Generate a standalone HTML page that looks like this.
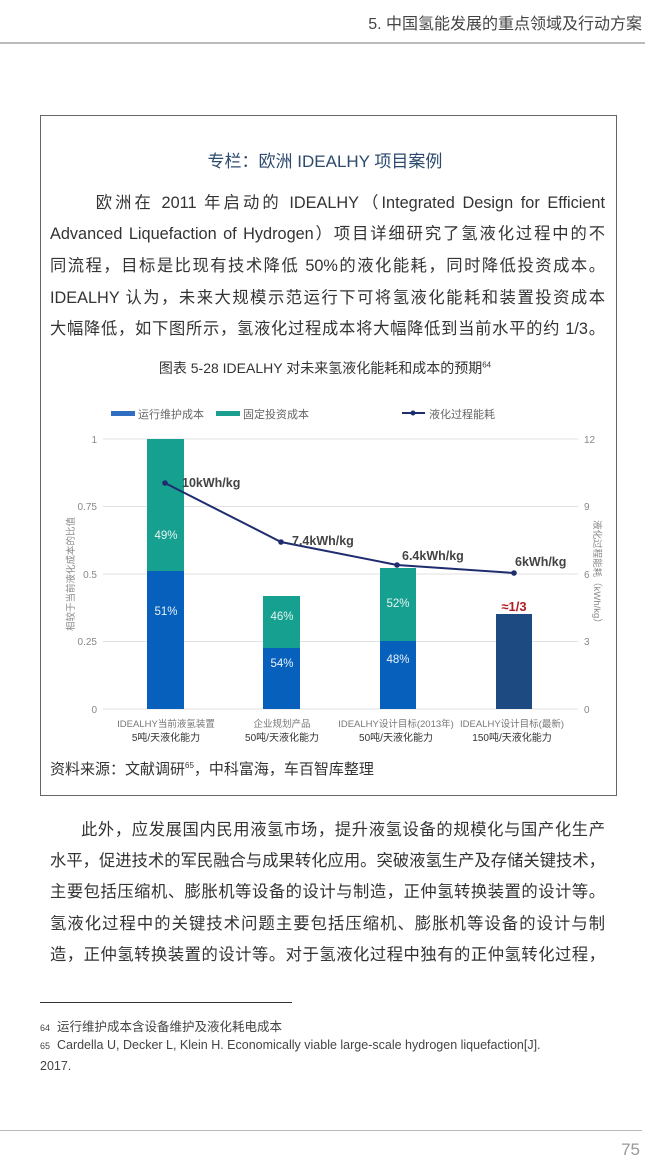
<!DOCTYPE html>
<html><head><meta charset="utf-8">
<style>
body{margin:0;width:650px;height:1169px;background:#fff;position:relative;overflow:hidden;font-family:"Liberation Sans","Noto Sans CJK SC",sans-serif;color:#333}
.a{position:absolute;white-space:nowrap}
.ln{position:absolute;left:50px;width:555px;font-size:16.3px;line-height:20px;text-align:justify;text-align-last:justify;white-space:nowrap;color:#333}
</style></head><body>
<div class="a" style="right:8px;top:10px;font-size:16px;color:#444">5. 中国氢能发展的重点领域及行动方案</div>
<div class="a" style="left:0;top:42px;width:645px;height:2px;background:#bbb"></div>

<div class="a" style="left:40px;top:115px;width:575px;height:679px;border:1px solid #666"></div>
<div class="a" style="left:0;width:650px;text-align:center;top:147px;font-size:17px;color:#2c4a6e">专栏：欧洲 IDEALHY 项目案例</div>

<div class="ln" style="top:193px">&nbsp;&nbsp;&nbsp;&nbsp;&nbsp;&nbsp;欧洲在 2011 年启动的 IDEALHY（Integrated Design for Efficient</div>
<div class="ln" style="top:224px">Advanced Liquefaction of Hydrogen）项目详细研究了氢液化过程中的不</div>
<div class="ln" style="top:256px">同流程，目标是比现有技术降低 50%的液化能耗，同时降低投资成本。</div>
<div class="ln" style="top:288px">IDEALHY 认为，未来大规模示范运行下可将氢液化能耗和装置投资成本</div>
<div class="ln" style="top:319px">大幅降低，如下图所示，氢液化过程成本将大幅降低到当前水平的约 1/3。</div>

<div class="a" style="left:0;width:650px;text-align:center;top:358px;font-size:14px;color:#333">图表 5-28 IDEALHY 对未来氢液化能耗和成本的预期<sup style="font-size:8px">64</sup></div>

<svg class="a" style="left:0;top:0" width="650" height="1169" font-family="Liberation Sans,Noto Sans CJK SC,sans-serif">
<rect x="111" y="411" width="24" height="5" fill="#2f6ec0"/>
<text x="138" y="418" font-size="11" fill="#666">运行维护成本</text>
<rect x="216" y="411" width="24" height="5" fill="#1a9e8f"/>
<text x="243" y="418" font-size="11" fill="#666">固定投资成本</text>
<line x1="402" y1="413" x2="425" y2="413" stroke="#1f2d6e" stroke-width="2"/>
<circle cx="413" cy="413" r="2.5" fill="#1f2d6e"/>
<text x="429" y="418" font-size="11" fill="#666">液化过程能耗</text>
<g stroke="#e2e2e2" stroke-width="1">
<line x1="103" y1="439" x2="578" y2="439"/>
<line x1="103" y1="506.5" x2="578" y2="506.5"/>
<line x1="103" y1="574" x2="578" y2="574"/>
<line x1="103" y1="641.5" x2="578" y2="641.5"/>
<line x1="103" y1="709" x2="578" y2="709"/>
</g>
<g font-size="10" fill="#888" text-anchor="end">
<text x="97" y="443">1</text><text x="97" y="510">0.75</text><text x="97" y="578">0.5</text><text x="97" y="645">0.25</text><text x="97" y="713">0</text>
</g>
<g font-size="10" fill="#888" text-anchor="start">
<text x="584" y="443">12</text><text x="584" y="510">9</text><text x="584" y="578">6</text><text x="584" y="645">3</text><text x="584" y="713">0</text>
</g>
<text transform="translate(74,574) rotate(-90)" font-size="9.5" fill="#888" text-anchor="middle">相较于当前液化成本的比值</text>
<text transform="translate(594,574) rotate(90)" font-size="9.5" fill="#888" text-anchor="middle">液化过程能耗（kWh/kg）</text>
<rect x="147" y="439" width="37" height="132" fill="#16a08f"/>
<rect x="147" y="571" width="37" height="138" fill="#0860bd"/>
<rect x="263" y="596" width="37" height="52" fill="#16a08f"/>
<rect x="263" y="648" width="37" height="61" fill="#0860bd"/>
<rect x="380" y="568" width="36" height="73" fill="#16a08f"/>
<rect x="380" y="641" width="36" height="68" fill="#0860bd"/>
<rect x="496" y="614" width="36" height="95" fill="#1d4a80"/>
<g font-size="11.5" fill="#e8f4f4" text-anchor="middle">
<text x="166" y="539">49%</text><text x="166" y="615">51%</text>
<text x="282" y="620">46%</text><text x="282" y="667">54%</text>
<text x="398" y="607">52%</text><text x="398" y="663">48%</text>
</g>
<text x="514" y="611" font-size="13" font-weight="bold" fill="#b01c24" text-anchor="middle">≈1/3</text>
<polyline points="165,483 281,542 397,565 514,573" fill="none" stroke="#1f2d6e" stroke-width="2"/>
<g fill="#1f2d6e"><circle cx="165" cy="483" r="2.8"/><circle cx="281" cy="542" r="2.8"/><circle cx="397" cy="565" r="2.8"/><circle cx="514" cy="573" r="2.8"/></g>
<g font-size="12.5" font-weight="bold" fill="#444">
<text x="182" y="487">10kWh/kg</text>
<text x="292" y="545">7.4kWh/kg</text>
<text x="402" y="560">6.4kWh/kg</text>
<text x="515" y="566">6kWh/kg</text>
</g>
<g font-size="9.5" fill="#777" text-anchor="middle">
<text x="166" y="727">IDEALHY当前液氢装置</text>
<text x="282" y="727">企业规划产品</text>
<text x="396" y="727">IDEALHY设计目标(2013年)</text>
<text x="512" y="727">IDEALHY设计目标(最新)</text>
</g>
<g font-size="10" fill="#333" text-anchor="middle">
<text x="166" y="741">5吨/天液化能力</text>
<text x="282" y="741">50吨/天液化能力</text>
<text x="396" y="741">50吨/天液化能力</text>
<text x="512" y="741">150吨/天液化能力</text>
</g>
</svg>
<div class="a" style="left:50px;top:758px;font-size:15px;color:#333">资料来源：文献调研<sup style="font-size:8px">65</sup>，中科富海，车百智库整理</div>

<div class="ln" style="top:820px">&nbsp;&nbsp;&nbsp;&nbsp;&nbsp;&nbsp;此外，应发展国内民用液氢市场，提升液氢设备的规模化与国产化生产</div>
<div class="ln" style="top:851px">水平，促进技术的军民融合与成果转化应用。突破液氢生产及存储关键技术，</div>
<div class="ln" style="top:882px">主要包括压缩机、膨胀机等设备的设计与制造，正仲氢转换装置的设计等。</div>
<div class="ln" style="top:914px">氢液化过程中的关键技术问题主要包括压缩机、膨胀机等设备的设计与制</div>
<div class="ln" style="top:945px">造，正仲氢转换装置的设计等。对于氢液化过程中独有的正仲氢转化过程，</div>

<div class="a" style="left:40px;top:1002px;width:252px;height:1px;background:#333"></div>
<div class="a" style="left:40px;top:1016px;font-size:12.5px;color:#444"><span style="font-size:9px">64</span>&nbsp; 运行维护成本含设备维护及液化耗电成本</div>
<div class="a" style="left:40px;top:1038px;font-size:12.5px;color:#444"><span style="font-size:9px">65</span>&nbsp; Cardella U, Decker L, Klein H. Economically viable large-scale hydrogen liquefaction[J].</div>
<div class="a" style="left:40px;top:1059px;font-size:12.5px;color:#444">2017.</div>

<div class="a" style="left:0;top:1130px;width:642px;height:1px;background:#bbb"></div>
<div class="a" style="right:10px;top:1140px;font-size:17px;color:#999">75</div>
</body></html>
